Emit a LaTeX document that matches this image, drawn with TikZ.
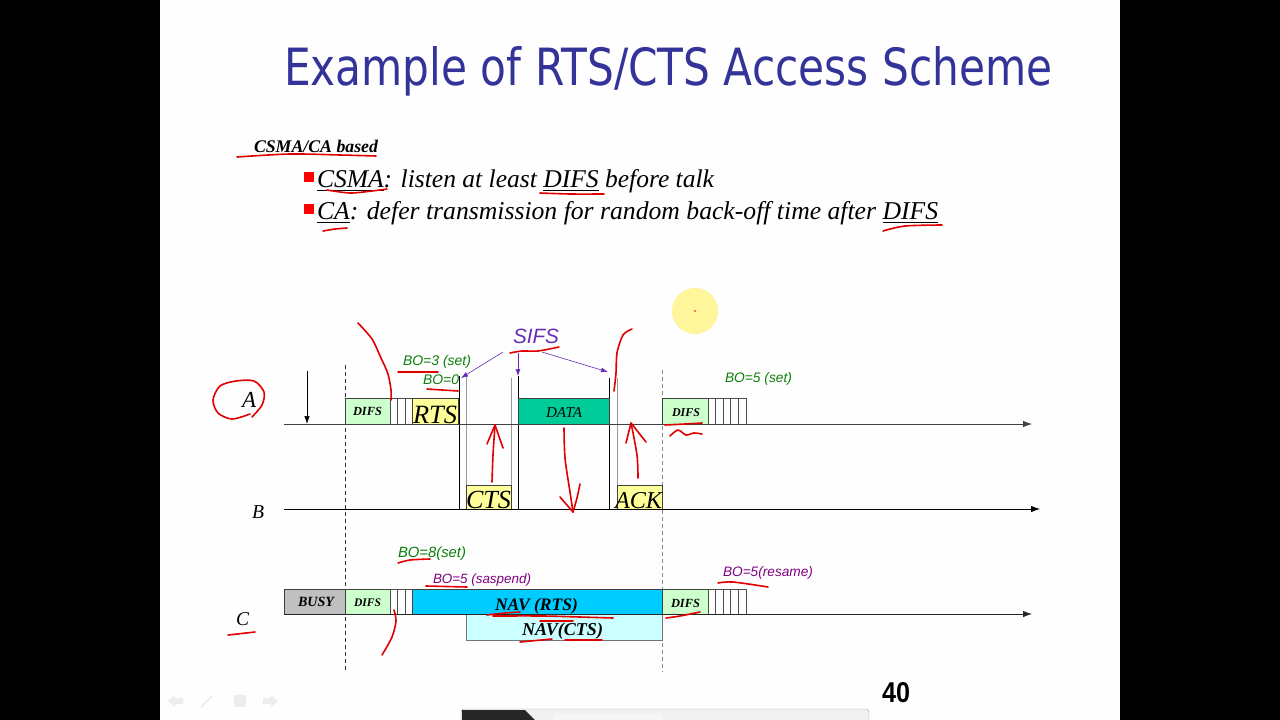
\documentclass[tikz,border=0pt]{standalone}
\usepackage{fontspec}
\setmainfont{Liberation Serif}
\newfontfamily\titlefont{DejaVu Sans}
\newfontfamily\handfont{Liberation Sans}
\newfontfamily\numfont{Liberation Sans}
\usetikzlibrary{arrows.meta}
\definecolor{titleblue}{HTML}{333399}
\definecolor{difsgreen}{HTML}{CCFFCC}
\definecolor{ctsyellow}{HTML}{FFFF99}
\definecolor{datagreen}{HTML}{00CC99}
\definecolor{busygray}{HTML}{C0C0C0}
\definecolor{navblue}{HTML}{00CCFF}
\definecolor{navlight}{HTML}{CCFFFF}
\definecolor{bogreen}{HTML}{0A800A}
\definecolor{bopurple}{HTML}{800080}
\definecolor{sifspurple}{HTML}{6A2CB8}
\definecolor{inkred}{HTML}{E00000}
\definecolor{slidebg}{HTML}{FEFEFE}
\definecolor{hilite}{HTML}{FFF59A}
\begin{document}
\begin{tikzpicture}[x=1pt,y=-1pt,
  lbl/.style={inner sep=0pt, outer sep=0pt, anchor=base west},
  boxst/.style={draw=black!75, line width=0.6pt, inner sep=0pt, outer sep=0pt, anchor=south west},
  axisst/.style={line width=0.8pt, -{Latex[length=9pt,width=6.5pt]}},
  slot/.style={draw=black!70, line width=0.6pt},
  bline/.style={line width=0.7pt, draw=black},
  gline/.style={line width=0.9pt, draw=black!40},
  vdash/.style={line width=0.6pt, dash pattern=on 4pt off 3pt},
  sarrow/.style={draw=sifspurple, line width=0.6pt, -{Latex[length=7pt,width=5pt]}},
  ink/.style={draw=inkred, line width=1.6pt, line cap=round, line join=round},
  bo/.style={lbl, text=bogreen},
  bop/.style={lbl, text=bopurple}
]
\useasboundingbox (0,0) rectangle (1280,720);
\fill[black] (0,0) rectangle (1280,720);
\fill[slidebg] (160,0) rectangle (1120,720);

% ---------- title and bullets ----------
\node[lbl, text=titleblue] (title) at (284,85) {\resizebox{768pt}{39pt}{\titlefont Example of RTS/CTS Access Scheme}};
\node[lbl] (based) at (254,152) {\resizebox{124pt}{!}{\bfseries\itshape CSMA/CA based}};
\node[fill=red, minimum size=10pt, inner sep=0pt] (sq1) at (309,177) {};
\node[fill=red, minimum size=10pt, inner sep=0pt] (sq2) at (309,209) {};
\node[lbl] (line1) at (317,187) {\resizebox{397pt}{!}{\itshape \underline{CSMA}: listen at least \underline{DIFS} before talk}};
\node[lbl] (line2) at (317,219) {\resizebox{621pt}{!}{\itshape \underline{CA}: defer transmission for random back-off time after \underline{DIFS}}};

% ---------- cursor highlight ----------
\node[circle, fill=hilite, minimum size=46pt, inner sep=0pt] (hl) at (695,311) {};
\fill[inkred] (hl.center) circle (0.8);

% ---------- dashed guides ----------
\coordinate (d1t) at (345,365); \coordinate (d1b) at (345,672);
\coordinate (d2t) at (662,370); \coordinate (d2b) at (662,672);
\draw[vdash, black!80] (d1t) -- (d1b);
\draw[vdash, black!45] (d2t) -- (d2b);

% ---------- SIFS vertical lines ----------
\coordinate (v1t) at (459,376); \coordinate (v1b) at (459,509);
\coordinate (v2t) at (466,377); \coordinate (v2b) at (466,509);
\coordinate (v3t) at (511,378); \coordinate (v3b) at (511,509);
\coordinate (v4t) at (518,376); \coordinate (v4b) at (518,509);
\coordinate (v5t) at (609,378); \coordinate (v5b) at (609,509);
\coordinate (v6t) at (617,378); \coordinate (v6b) at (617,509);
\draw[bline] (v1t) -- (v1b);
\draw[gline] (v2t) -- (v2b);
\draw[gline] (v3t) -- (v3b);
\draw[bline] (v4t) -- (v4b);
\draw[bline] (v5t) -- (v5b);
\draw[gline] (v6t) -- (v6b);

% ---------- row A ----------
\node[boxst, fill=difsgreen, minimum width=45pt, minimum height=26pt] (aDifs1) at (345,424) {};
\draw[slot] (390,398) rectangle (412,424);
\foreach \x in {397.5,405} \draw[slot] (\x,398) -- (\x,424);
\node[boxst, fill=ctsyellow, minimum width=46pt, minimum height=26pt] (aRts) at (412,424) {};
\node[boxst, fill=datagreen, minimum width=91pt, minimum height=26pt] (aData) at (518,424) {};
\node[boxst, fill=difsgreen, minimum width=46pt, minimum height=26pt] (aDifs2) at (662,424) {};
\draw[slot] (708,398) rectangle (746,424);
\foreach \x in {715.5,723,730.5,738} \draw[slot] (\x,398) -- (\x,424);

\node[lbl] (tDifsA1) at (353,415) {\resizebox{29pt}{!}{\bfseries\itshape DIFS}};
\node[lbl] (tRts) at (413,423) {\resizebox{44pt}{!}{\itshape RTS}};
\node[lbl] (tData) at (546,417) {\resizebox{36pt}{!}{\itshape DATA}};
\node[lbl] (tDifsA2) at (672,416) {\resizebox{28pt}{!}{\bfseries\itshape DIFS}};

% ---------- row B ----------
\node[boxst, fill=ctsyellow, minimum width=45pt, minimum height=24pt] (bCts) at (466,509) {};
\node[boxst, fill=ctsyellow, minimum width=45pt, minimum height=24pt] (bAck) at (617,509) {};
\node[lbl] (tCts) at (466,508) {\resizebox{45pt}{!}{\itshape CTS}};
\node[lbl] (tAck) at (615,508) {\resizebox{47pt}{!}{\itshape ACK}};

% ---------- row C ----------
\node[boxst, fill=busygray, minimum width=61pt, minimum height=25pt] (cBusy) at (284,614) {};
\node[boxst, fill=difsgreen, minimum width=45pt, minimum height=25pt] (cDifs1) at (345,614) {};
\draw[slot] (390,589) rectangle (412,614);
\foreach \x in {397.5,405} \draw[slot] (\x,589) -- (\x,614);
\node[boxst, fill=navblue, minimum width=250pt, minimum height=25pt] (cNavR) at (412,614) {};
\node[boxst, fill=navlight, minimum width=196pt, minimum height=26pt, anchor=north west, draw=black!55] (cNavC) at (466,614) {};
\node[boxst, fill=difsgreen, minimum width=46pt, minimum height=25pt] (cDifs2) at (662,614) {};
\draw[slot] (708,589) rectangle (746,614);
\foreach \x in {715.5,723,730.5,738} \draw[slot] (\x,589) -- (\x,614);

\node[lbl] (tBusy) at (298,606) {\resizebox{36pt}{!}{\bfseries\itshape BUSY}};
\node[lbl] (tDifsC1) at (354,606) {\resizebox{27pt}{!}{\bfseries\itshape DIFS}};
\node[lbl] (tNavR) at (495,610) {\resizebox{83pt}{!}{\bfseries\itshape NAV (RTS)}};
\node[lbl] (tNavC) at (522,635) {\resizebox{81pt}{!}{\bfseries\itshape NAV(CTS)}};
\node[lbl] (tDifsC2) at (671,607) {\resizebox{29pt}{!}{\bfseries\itshape DIFS}};

% ---------- axes ----------
\coordinate (aS) at (284,424); \coordinate (aE) at (1032,424);
\coordinate (bS) at (284,509); \coordinate (bE) at (1040,509);
\coordinate (cS) at (284,614); \coordinate (cE) at (1032,614);
\draw[axisst, black!75] (aS) -- (aE);
\draw[axisst, black] (bS) -- (bE);
\draw[axisst, black!85] (cS) -- (cE);
\coordinate (arT) at (307,371); \coordinate (arB) at (307,424);
\draw[line width=0.7pt, -{Latex[length=8pt,width=5.5pt]}] (arT) -- (arB);

\node[lbl] (labA) at (242,407) {\resizebox{14pt}{!}{\itshape A}};
\node[lbl] (labB) at (252,518) {\resizebox{12pt}{!}{\itshape B}};
\node[lbl] (labC) at (236,625) {\resizebox{13pt}{!}{\itshape C}};

% ---------- BO labels ----------
\node[bo] (bo3) at (403,365) {\resizebox{68pt}{!}{\handfont\itshape BO=3 (set)}};
\node[bo] (bo0) at (423,384) {\resizebox{36pt}{!}{\handfont\itshape BO=0}};
\node[bo] (bo5) at (725,382) {\resizebox{67pt}{!}{\handfont\itshape BO=5 (set)}};
\node[bo] (bo8) at (398,557) {\resizebox{68pt}{!}{\handfont\itshape BO=8(set)}};
\node[bop] (bo5s) at (433,583) {\resizebox{98pt}{!}{\handfont\itshape BO=5 (saspend)}};
\node[bop] (bo5r) at (723,576) {\resizebox{90pt}{!}{\handfont\itshape BO=5(resame)}};

% ---------- SIFS ----------
\node[lbl, text=sifspurple] (sifs) at (513,343) {\resizebox{46pt}{!}{\handfont\itshape SIFS}};
\coordinate (s1) at (461,378); \coordinate (s2) at (518,376); \coordinate (s3) at (608,372);
\draw[sarrow] ([shift={(-10,9)}]sifs.base west) -- (s1);
\draw[sarrow] ([shift={(5,10)}]sifs.base west) -- (s2);
\draw[sarrow] ([shift={(-17,9)}]sifs.base east) -- (s3);

% ---------- slide number ----------
\node[lbl] (pnum) at (882,702) {\resizebox{28pt}{20pt}{\numfont\bfseries 40}};

% ---------- faint navigation icons ----------
\fill[black!7] (168,701) -- (175,695) -- (175,698) -- (183,698) -- (183,704) -- (175,704) -- (175,707) -- cycle;
\draw[black!7, line width=1.5pt] (201,707) -- (212,696);
\fill[black!7] (234,695) rectangle (246,707);
\fill[black!7] (278,701) -- (271,695) -- (271,698) -- (263,698) -- (263,704) -- (271,704) -- (271,707) -- cycle;

% ---------- video overlay at bottom ----------
\draw[black!35, fill=black!6, rounded corners=3pt] (461,709) rectangle (869,726);
\fill[black!85] (462,710) -- (525,710) -- (535,720) -- (462,720) -- cycle;
\fill[black!4] (553,713) rectangle (663,720);

% ---------- red hand annotations ----------
\draw[ink] plot[smooth] coordinates {(237,157) (290,154) (340,155) (376,156)};
\draw[ink] plot[smooth] coordinates {(327,190) (350,193) (372,191) (387,189)};
\draw[ink] plot[smooth] coordinates {(323,231) (335,229) (347,228)};
\draw[ink] plot[smooth] coordinates {(540,193) (570,194) (604,194)};
\draw[ink] plot[smooth] coordinates {(883,231) (905,226) (942,225)};
\draw[ink] plot[smooth] coordinates {(252,417) (262,405) (264,392) (254,381) (236,381) (220,386) (213,400) (218,413) (232,419) (250,414)};
\draw[ink] plot[smooth] coordinates {(358,323) (372,339) (381,358) (388,374) (391,390) (391,400)};
\draw[ink] (398,372) -- (438,372);
\draw[ink] (427,389) -- (458,391);
\draw[ink] plot[smooth] coordinates {(510,353) (522,351) (538,351) (559,347)};
\draw[ink] plot[smooth] coordinates {(632,329) (623,335) (617,353) (616,373) (614,391)};
\draw[ink] plot[smooth] coordinates {(492,482) (493,455) (495,425)};
\draw[ink] (487,444) -- (495,425) -- (503,448);
\draw[ink] plot[smooth] coordinates {(564,428) (565,458) (570,492) (573,512)};
\draw[ink] (560,497) -- (573,512);
\draw[ink] plot[smooth] coordinates {(573,512) (577,498) (580,484)};
\draw[ink] plot[smooth] coordinates {(638,478) (637,455) (631,423)};
\draw[ink] (626,443) -- (631,423) -- (646,442);
\draw[ink] plot[smooth] coordinates {(665,425) (685,424) (702,423)};
\draw[ink] plot[smooth] coordinates {(670,436) (678,430) (686,435) (694,433) (702,434)};
\draw[ink] (228,635) -- (255,632);
\draw[ink] plot[smooth] coordinates {(398,563) (410,560) (430,559)};
\draw[ink] (426,586) -- (467,587);
\draw[ink] plot[smooth] coordinates {(394,610) (396,621) (392,637) (382,655)};
\draw[ink] plot[smooth] coordinates {(487,615) (505,613) (520,612)};
\draw[ink] plot[smooth] coordinates {(493,616) (543,616) (580,617) (613,618)};
\draw[ink] (540,621) -- (573,621);
\draw[ink] (520,642) -- (552,639);
\draw[ink] (565,640) -- (602,640);
\draw[ink] plot[smooth] coordinates {(666,618) (680,616) (700,612)};
\draw[ink] plot[smooth] coordinates {(718,583) (733,582) (768,587)};
\end{tikzpicture}
\end{document}
